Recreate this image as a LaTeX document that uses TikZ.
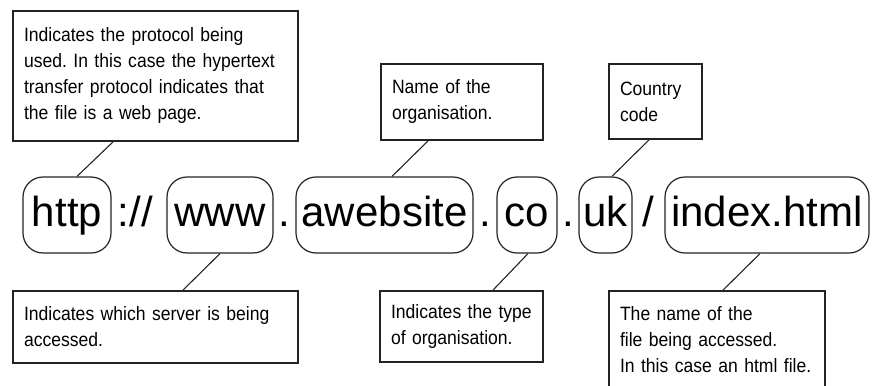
\documentclass[tikz,border=0pt]{standalone}
\usepackage{fontspec}
\setmainfont{Liberation Sans}
\newfontfamily\notefont[FakeStretch=0.91]{Liberation Sans}
\usepackage{xcolor}
\definecolor{inkgray}{RGB}{35,35,35}

\begin{document}
\frenchspacing
\begin{tikzpicture}[
    x=1pt, y=-1pt,
    note/.style={rectangle, draw=inkgray, line width=1.8pt, align=left,
                 inner xsep=11pt, inner ysep=0pt,
                 font=\notefont\fontsize{19.3}{26}\selectfont},
    part/.style={rectangle, rounded corners=20pt, draw=inkgray, line width=1.2pt,
                 minimum height=76pt, inner sep=0pt, text height=31pt, text depth=9pt,
                 font=\fontsize{42}{48}\selectfont},
    sep/.style={inner sep=0pt, text height=31pt, text depth=9pt,
                font=\fontsize{42}{48}\selectfont},
    lnk/.style={draw=inkgray, line width=1.1pt}
]
\useasboundingbox (0,0) rectangle (874,385);

% the address, part by part
\node[part, minimum width=88pt]  (http)  at (67,215)    {http};
\node[sep]                       (s1)    at (135.5,215) {://};
\node[part, minimum width=106pt] (www)   at (220,215)   {www};
\node[sep]                       (s2)    at (284.5,215) {.};
\node[part, minimum width=177pt] (site)  at (384.5,215) {awebsite};
\node[sep]                       (s3)    at (485,215)   {.};
\node[part, minimum width=60pt]  (co)    at (527,215)   {co};
\node[sep]                       (s4)    at (568,215)   {.};
\node[part, minimum width=53pt]  (uk)    at (605.5,215) {uk};
\node[sep]                       (s5)    at (648.5,215) {/};
\node[part, minimum width=204pt] (index) at (767,215)   {index.html};

% notes above
\node[note, text width=263pt, minimum height=130pt] (proto) at (155.5,76)
    {Indicates the protocol being\\used. In this case the hypertext\\transfer protocol indicates that\\the file is a web page.};
\node[note, text width=140pt, minimum height=76pt] (orgname) at (462,102)
    {Name of the\\organisation.};
\node[note, text width=71pt, minimum height=75pt] (country) at (655.5,101.5)
    {Country\\code};

% notes below
\node[note, text width=263pt, minimum height=72pt] (server) at (155.5,327)
    {Indicates which server is being\\accessed.};
\node[note, text width=141pt, minimum height=71pt] (orgtype) at (461.5,326.5)
    {Indicates the type\\of organisation.};
\node[note, text width=194pt, minimum height=98pt] (file) at (717,340)
    {The name of the\\file being accessed.\\In this case an html file.};

\draw[lnk] ([xshift=-42.5pt]proto.south) -- ([xshift=10pt]http.north);
\draw[lnk] ([xshift=-34pt]orgname.south) -- ([xshift=7.5pt]site.north);
\draw[lnk] ([xshift=-6.5pt]country.south) -- ([xshift=6.5pt]uk.north);
\draw[lnk] (www.south) -- ([xshift=27.5pt]server.north);
\draw[lnk] ([xshift=1pt]co.south) -- ([xshift=31.5pt]orgtype.north);
\draw[lnk] ([xshift=-7pt]index.south) -- ([xshift=6pt]file.north);
\end{tikzpicture}
\end{document}
